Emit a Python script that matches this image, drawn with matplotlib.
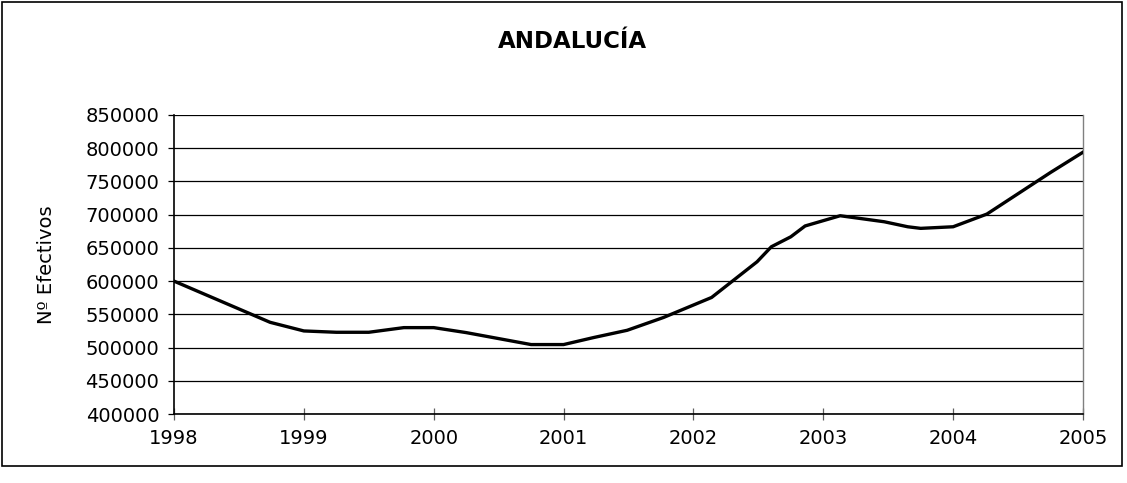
import matplotlib
matplotlib.use("Agg")
import matplotlib.pyplot as plt
from matplotlib.patches import Rectangle

# Data (fractional year, number of workers)
years = [1998.00, 1998.74, 1999.00, 1999.25, 1999.50, 1999.77, 2000.00,
         2000.25, 2000.75, 2001.00, 2001.23, 2001.49, 2001.77, 2002.14,
         2002.49, 2002.60, 2002.75, 2002.86, 2003.13, 2003.47, 2003.65,
         2003.75, 2004.00, 2004.26, 2004.75, 2005.00]
efectivos = [600000, 538000, 525000, 523000, 523000, 530000, 530000,
             522500, 504500, 504500, 515000, 526000, 545300, 575400,
             629100, 651700, 666700, 683000, 698400, 689300, 681800,
             679400, 681800, 700900, 763500, 794000]

title = "ANDALUCÍA"
ylabel = "Nº Efectivos"
xticks = [1998, 1999, 2000, 2001, 2002, 2003, 2004, 2005]
yticks = [400000, 450000, 500000, 550000, 600000, 650000, 700000, 750000, 800000, 850000]

plt.rcParams['font.family'] = ['DejaVu Sans']

W, H = 1127, 483
L, R, T, B = 174, 1083, 115, 414
fig = plt.figure(figsize=(W / 100, H / 100), dpi=100)
ax = fig.add_axes([L / W, 1 - B / H, (R - L) / W, (B - T) / H])

ax.plot(years, efectivos, color='black', lw=2.4, solid_joinstyle='round', zorder=3)

ax.set_xlim(1998, 2005)
ax.set_ylim(400000, 850000)
ax.set_xticks(xticks)
ax.set_xticklabels([str(x) for x in xticks])
ax.set_yticks(yticks)
ax.set_yticklabels([str(y) for y in yticks])
ax.grid(axis='y', color='black', lw=0.9)
ax.set_axisbelow(True)

for s in ['left', 'bottom']:
    ax.spines[s].set_color('black')
    ax.spines[s].set_linewidth(1.2)
ax.spines['top'].set_visible(False)
ax.spines['right'].set_color('#808080')
ax.spines['right'].set_linewidth(1.0)

ax.tick_params(axis='y', direction='out', length=4.5, width=0.9, color='black',
               labelsize=14, pad=6)
ax.tick_params(axis='x', direction='inout', length=9, width=0.9, color='#606060',
               labelsize=14, pad=6)

ax.set_ylabel(ylabel, fontsize=14)
ax.yaxis.set_label_coords((56 - L) / (R - L), 0.5)

fig.text(572 / W, 1 - 41 / H, title, ha='center', va='center',
         fontsize=16.5, fontweight='bold')

fig.patches.append(Rectangle((2 / W, 1 - 466 / H), (1122 - 2) / W, (466 - 2) / H,
                             transform=fig.transFigure, fill=False,
                             edgecolor='black', lw=1.2))

fig.savefig("out.png", dpi=100)
